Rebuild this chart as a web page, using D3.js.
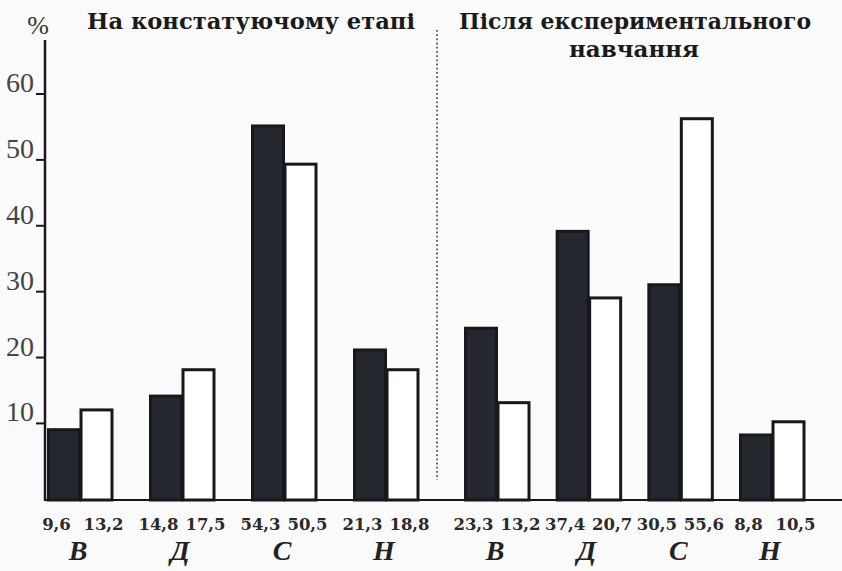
<!DOCTYPE html>
<html><head><meta charset="utf-8">
<script src="https://cdn.jsdelivr.net/npm/d3@7/dist/d3.min.js"></script>
<style>html,body{margin:0;padding:0;background:#fbfbfb;} svg{display:block}</style>
</head><body><svg id="c" width="842" height="571"></svg>
<script>
// ---- data ----
const categories = ["В", "Д", "С", "Н"];
const yTicks = [10, 20, 30, 40, 50, 60];
// bar heights as drawn
const preDark   = [9.2, 14.3, 55.3, 21.3];
const preLight  = [12.2, 18.3, 49.5, 18.3];
const postDark  = [24.6, 39.3, 31.2, 8.4];
const postLight = [13.3, 29.2, 56.4, 10.4];
// printed values under the bars
const preDarkLabels   = ["9,6", "14,8", "54,3", "21,3"];
const preLightLabels  = ["13,2", "17,5", "50,5", "18,8"];
const postDarkLabels  = ["23,3", "37,4", "30,5", "8,8"];
const postLightLabels = ["13,2", "20,7", "55,6", "10,5"];
const titlePre  = ["На констатуючому етапі"];
const titlePost = ["Після експериментального", "навчання"];

// ---- drawing ----
const svg = d3.select("#c");
const ink = "#16181c";
const y = d3.scaleLinear().domain([-1.7, 60]).range([500, 93.5]);
const base = y(-1.7);

const panels = [
  {dark: preDark, light: preLight, dl: preDarkLabels, ll: preLightLabels,
   x: d3.scalePoint().domain(categories).range([80, 386])},
  {dark: postDark, light: postLight, dl: postDarkLabels, ll: postLightLabels,
   x: d3.scalePoint().domain(categories).range([497, 772])}
];

// y axis
const axis = svg.append("g").attr("transform", "translate(45,0)");
axis.call(d3.axisLeft(y).tickValues(yTicks).tickSize(9).tickPadding(3).tickFormat(d3.format("d")));
axis.select(".domain").remove();
axis.append("line").attr("x1", 0).attr("x2", 0).attr("y1", 40).attr("y2", base + 1)
  .attr("stroke", ink).attr("stroke-width", 2.5);
axis.selectAll(".tick line").attr("stroke", ink).attr("stroke-width", 2);
axis.selectAll(".tick text")
  .attr("font-family", "'Liberation Serif', serif").attr("font-size", 28)
  .attr("fill", "#444").attr("dy", -2).attr("x", -11)
  .attr("dominant-baseline", "auto");

svg.append("text").attr("x", 38).attr("y", 34).attr("text-anchor", "middle")
  .attr("font-family", "'Liberation Serif', serif").attr("font-size", 26).attr("fill", "#333").text("%");

// baseline
svg.append("line").attr("x1", 45).attr("x2", 842).attr("y1", base).attr("y2", base)
  .attr("stroke", ink).attr("stroke-width", 2.2);

// divider
svg.append("line").attr("x1", 437).attr("x2", 437).attr("y1", 30).attr("y2", 480)
  .attr("stroke", "#555").attr("stroke-width", 1.8).attr("stroke-dasharray", "1.8,2.4");

// titles
const tf = "'DejaVu Serif', serif";
svg.append("text").attr("x", 87).attr("y", 29).attr("font-family", tf).attr("font-weight", "bold")
  .attr("font-size", 22).attr("fill", "#1a1a1a").attr("textLength", 328).attr("lengthAdjust", "spacingAndGlyphs")
  .text(titlePre[0]);
svg.append("text").attr("x", 459).attr("y", 29).attr("font-family", tf).attr("font-weight", "bold")
  .attr("font-size", 22).attr("fill", "#1a1a1a").attr("textLength", 352).attr("lengthAdjust", "spacingAndGlyphs")
  .text(titlePost[0]);
svg.append("text").attr("x", 569).attr("y", 57).attr("font-family", tf).attr("font-weight", "bold")
  .attr("font-size", 22).attr("fill", "#1a1a1a").attr("textLength", 130).attr("lengthAdjust", "spacingAndGlyphs")
  .text(titlePost[1]);

const bw = 31;
panels.forEach(p => {
  const g = svg.append("g");
  // dark bars
  g.selectAll("rect.d").data(categories).join("rect").attr("class", "d")
    .attr("x", c => p.x(c) - bw - 0.5).attr("width", bw)
    .attr("y", (c, i) => y(p.dark[i]) + 1.5).attr("height", (c, i) => base - y(p.dark[i]) - 1.5)
    .attr("fill", "#25272e").attr("stroke", ink).attr("stroke-width", 3);
  // light bars
  g.selectAll("rect.l").data(categories).join("rect").attr("class", "l")
    .attr("x", c => p.x(c) + 1).attr("width", bw)
    .attr("y", (c, i) => y(p.light[i]) + 1.5).attr("height", (c, i) => base - y(p.light[i]) - 1.5)
    .attr("fill", "#ffffff").attr("stroke", ink).attr("stroke-width", 3);
  // value labels
  const vf = "'DejaVu Serif', serif";
  g.selectAll("text.dl").data(categories).join("text").attr("class", "dl")
    .attr("x", c => p.x(c) - 23.5).attr("y", 530).attr("text-anchor", "middle")
    .attr("font-family", vf).attr("font-weight", "bold").attr("font-size", 16.5).attr("fill", "#2a2a2a")
    .text((c, i) => p.dl[i]);
  g.selectAll("text.ll").data(categories).join("text").attr("class", "ll")
    .attr("x", c => p.x(c) + 23.5).attr("y", 530).attr("text-anchor", "middle")
    .attr("font-family", vf).attr("font-weight", "bold").attr("font-size", 16.5).attr("fill", "#2a2a2a")
    .text((c, i) => p.ll[i]);
  // category letters
  g.selectAll("text.cat").data(categories).join("text").attr("class", "cat")
    .attr("x", c => p.x(c) - 2).attr("y", 560).attr("text-anchor", "middle")
    .attr("font-family", "'Liberation Serif', serif").attr("font-weight", "bold").attr("font-style", "italic")
    .attr("font-size", 28).attr("fill", "#222")
    .text(c => c);
});
</script>
</body></html>
